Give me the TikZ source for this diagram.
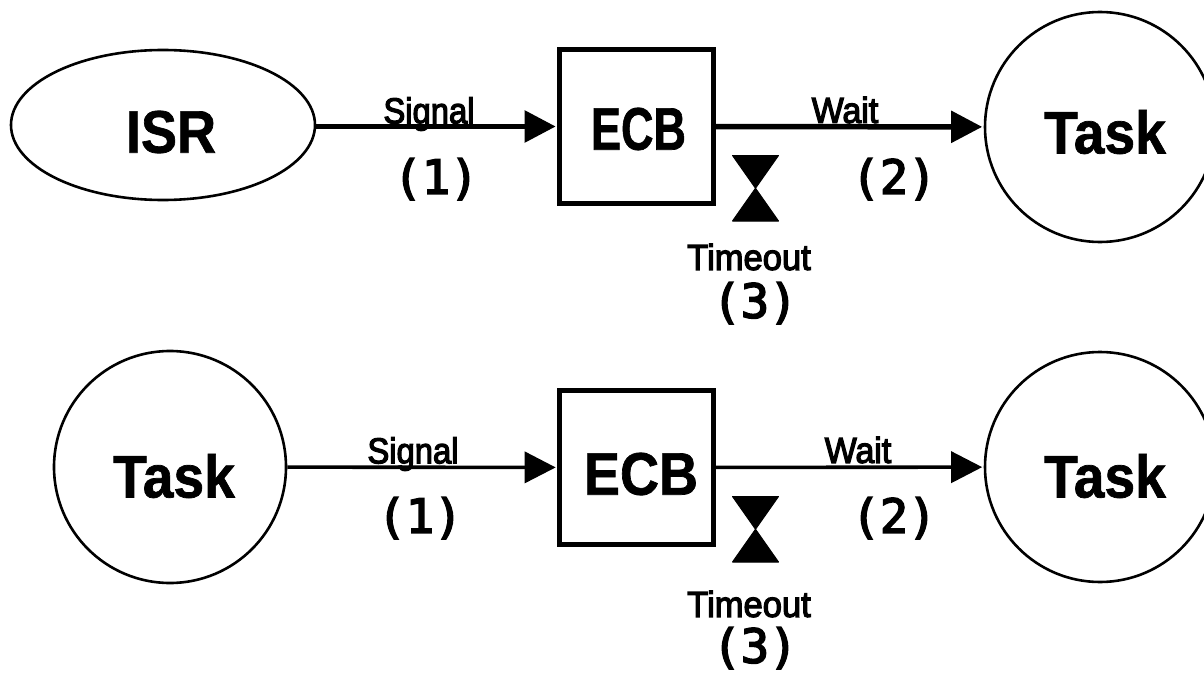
\documentclass[tikz,border=0pt]{standalone}
\usepackage{fontspec}
\setmainfont{Liberation Sans}
\newfontfamily\medfont[FakeBold=3.5]{Liberation Sans}
\newfontfamily\numfont[FakeBold=3.5]{DejaVu Sans Mono}
\newfontfamily\heavyfont[FakeBold=1.2]{Liberation Sans Bold}
\usetikzlibrary{arrows.meta,shapes.geometric}
\tikzset{
  px/.style={x=1pt,y=-1pt},
  thinshape/.style={draw=black,line width=2.6pt,inner sep=0pt},
  boxshape/.style={draw=black,line width=4.6pt,inner sep=0pt},
  bigtext/.style={font=\fontsize{60}{62}\selectfont\heavyfont,inner sep=0pt},
  lbl/.style={font=\fontsize{36}{38}\selectfont\medfont,inner sep=0pt},
  num/.style={font=\fontsize{47}{49}\selectfont\numfont,inner sep=0pt},
  conn/.style={draw=black,shorten >=1.5pt,-{Triangle[length=31pt,width=31pt]}},
  glass/.style={fill=black,draw=black,line width=1pt,line join=round},
}
\begin{document}
\begin{tikzpicture}[px]
\useasboundingbox (0,0) rectangle (1204,674);
\fill[white] (0,0) rectangle (1204,674);
% top
\node[thinshape,ellipse,minimum width=304pt,minimum height=150pt] (isr) at (163,125) {};
\node[bigtext,xscale=.9] (isrt) at (171,132) {ISR};
\node[boxshape,minimum width=154pt,minimum height=154pt] (ecb1) at (636.5,126.5) {};
\node[bigtext,xscale=.75] (ecb1t) at (638.5,129) {ECB};
\node[thinshape,circle,minimum size=230pt] (t1) at (1100,127) {};
\node[bigtext,xscale=.92] (t1t) at (1105,132) {Task};
\draw[conn,line width=5.5pt] (isr.east |- ecb1.west) -- (ecb1.west);
\draw[conn,line width=5.5pt] (ecb1) -- (t1);
\node[lbl,xscale=.91] (s1) at (429,114) {Signal};
\node[lbl,xscale=.94] (w1) at (845,110) {Wait};
\node[num] (n1) at (436,179) {(1)};
\node[num] (n2) at (894,179) {(2)};
\node[lbl,xscale=.96] (to1) at (749,257) {Timeout};
\node[num] (n3) at (755,303) {(3)};
\fill[glass] (732.5,155.5) -- (778.5,155.5) -- (732.5,221) -- (778.5,221) -- cycle;
% bottom
\node[thinshape,circle,minimum size=232pt] (t2) at (170,467) {};
\node[bigtext,xscale=.92] (t2t) at (174,476) {Task};
\node[boxshape,minimum width=154pt,minimum height=154pt] (ecb2) at (636.5,467.5) {};
\node[bigtext,xscale=.9] (ecb2t) at (641,474) {ECB};
\node[thinshape,circle,minimum size=230pt] (t3) at (1100,467) {};
\node[bigtext,xscale=.92] (t3t) at (1105,476) {Task};
\draw[conn,line width=3.6pt] (t2) -- (ecb2);
\draw[conn,line width=3.6pt] (ecb2) -- (t3);
\node[lbl,xscale=.91] (s2) at (413,454) {Signal};
\node[lbl,xscale=.94] (w2) at (858,450) {Wait};
\node[num] (n4) at (420,518) {(1)};
\node[num] (n5) at (894,518) {(2)};
\node[lbl,xscale=.96] (to2) at (749,604) {Timeout};
\node[num] (n6) at (755,648) {(3)};
\fill[glass] (732.5,496.5) -- (778.5,496.5) -- (732.5,562) -- (778.5,562) -- cycle;
\end{tikzpicture}
\end{document}
